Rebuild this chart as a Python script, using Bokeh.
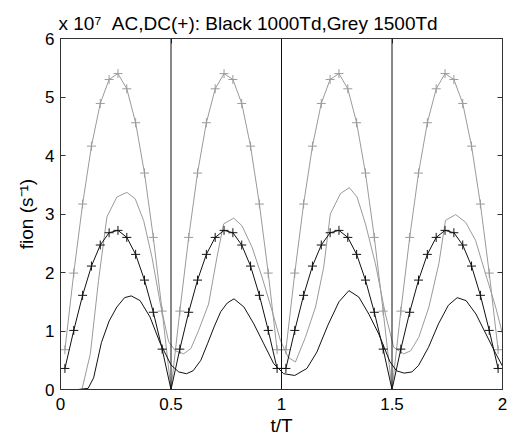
from bokeh.plotting import figure
from bokeh.models import FixedTicker, LinearAxis, Span, Range1d
from bokeh.embed import file_html
from bokeh.resources import INLINE

# ---- data ----
dc_t = [0.02, 0.06, 0.10, 0.14, 0.18, 0.22, 0.26, 0.30, 0.34, 0.38, 0.42, 0.46, 0.50,
        0.54, 0.58, 0.62, 0.66, 0.70, 0.74, 0.78, 0.82, 0.86, 0.90, 0.94, 0.98,
        1.02, 1.06, 1.10, 1.14, 1.18, 1.22, 1.26, 1.30, 1.34, 1.38, 1.42, 1.46, 1.50,
        1.54, 1.58, 1.62, 1.66, 1.70, 1.74, 1.78, 1.82, 1.86, 1.90, 1.94, 1.98]
dc_black = [0.36, 1.01, 1.61, 2.11, 2.47, 2.68, 2.72, 2.60, 2.31, 1.87, 1.32, 0.69, 0.00,
            0.69, 1.32, 1.87, 2.31, 2.60, 2.72, 2.68, 2.47, 2.11, 1.61, 1.01, 0.36,
            0.36, 1.01, 1.61, 2.11, 2.47, 2.68, 2.72, 2.60, 2.31, 1.87, 1.32, 0.69, 0.00,
            0.69, 1.32, 1.87, 2.31, 2.60, 2.72, 2.68, 2.47, 2.11, 1.61, 1.01, 0.36]
dc_grey = [0.68, 1.99, 3.17, 4.16, 4.89, 5.30, 5.40, 5.14, 4.56, 3.70, 2.60, 1.34, 0.00,
           1.34, 2.60, 3.70, 4.56, 5.14, 5.40, 5.30, 4.89, 4.16, 3.17, 1.99, 0.68,
           0.68, 1.99, 3.17, 4.16, 4.89, 5.30, 5.40, 5.14, 4.56, 3.70, 2.60, 1.34, 0.00,
           1.34, 2.60, 3.70, 4.56, 5.14, 5.40, 5.30, 4.89, 4.16, 3.17, 1.99, 0.68]

ac_black_t = [0.00, 0.08, 0.125, 0.15, 0.185, 0.22, 0.255, 0.29, 0.32, 0.36, 0.405, 0.45, 0.50,
              0.535, 0.57, 0.60, 0.635, 0.665, 0.695, 0.725, 0.755, 0.785, 0.83, 0.875, 0.92,
              0.965, 1.01, 1.06, 1.115, 1.16, 1.21, 1.26, 1.305, 1.35, 1.395, 1.44, 1.49,
              1.52, 1.555, 1.59, 1.62, 1.665, 1.71, 1.755, 1.795, 1.835, 1.88, 1.925, 1.97, 2.00]
ac_black = [0.00, 0.00, 0.02, 0.20, 0.80, 1.17, 1.41, 1.57, 1.60, 1.52, 1.24, 0.80, 0.42,
            0.30, 0.27, 0.32, 0.50, 0.78, 1.07, 1.33, 1.48, 1.55, 1.41, 1.12, 0.78,
            0.44, 0.27, 0.24, 0.36, 0.64, 1.10, 1.50, 1.69, 1.58, 1.29, 0.95, 0.48,
            0.32, 0.28, 0.30, 0.41, 0.72, 1.12, 1.44, 1.57, 1.52, 1.29, 0.95, 0.61, 0.40]

ac_grey_t = [0.00, 0.097, 0.135, 0.172, 0.21, 0.255, 0.30, 0.338, 0.376, 0.414, 0.452, 0.489,
             0.52, 0.557, 0.59, 0.625, 0.67, 0.708, 0.738, 0.784, 0.821, 0.867, 0.912, 0.957,
             0.995, 1.03, 1.063, 1.108, 1.154, 1.191, 1.221, 1.267, 1.307, 1.342, 1.38, 1.425,
             1.47, 1.508, 1.553, 1.584, 1.621, 1.667, 1.712, 1.742, 1.788, 1.833, 1.878, 1.923,
             1.969, 2.00]
ac_grey = [0.00, 0.00, 0.61, 1.86, 2.95, 3.29, 3.37, 3.26, 2.89, 2.26, 1.46, 0.82,
           0.66, 0.61, 0.70, 1.01, 1.46, 2.26, 2.83, 2.93, 2.80, 2.43, 1.92, 1.35,
           0.84, 0.55, 0.47, 0.89, 1.41, 2.09, 3.00, 3.35, 3.45, 3.29, 2.83, 2.15,
           1.29, 0.72, 0.61, 0.66, 0.89, 1.41, 2.15, 2.89, 2.99, 2.86, 2.55, 1.98,
           1.41, 0.95]

x_ticks = [0, 0.5, 1, 1.5, 2]
x_tick_labels = ["0", "0.5", "1", "1.5", "2"]
y_ticks = [0, 1, 2, 3, 4, 5, 6]
dividers = [0.5, 1.0, 1.5]
title_text = "x 10\u2077\u00a0\u00a0AC,DC(+): Black 1000Td,Grey 1500Td"

GREY = "#9a9a9a"
BLACK = "#111111"
FONT = "Liberation Sans"

p = figure(width=508, height=440, x_range=Range1d(0, 2), y_range=Range1d(0, 6),
           output_backend="svg", toolbar_location=None,
           min_border_left=60, min_border_right=6, min_border_top=38, min_border_bottom=51)
p.background_fill_color = "white"
p.border_fill_color = "white"
p.outline_line_color = "#333333"
p.grid.visible = False

p.title.text = title_text
p.title.text_font = FONT
p.title.text_font_size = "19px"
p.title.text_font_style = "normal"
p.title.text_color = "black"
p.title.align = "left"
p.title.offset = -2
p.title.standoff = 9

for loc in dividers:
    p.add_layout(Span(location=loc, dimension="height", line_color=BLACK, line_width=1))

p.line(ac_grey_t, ac_grey, line_color=GREY, line_width=1)
p.line(dc_t, dc_grey, line_color=GREY, line_width=1)
p.scatter(dc_t, dc_grey, marker="cross", size=9, line_color=GREY, line_width=1)
p.line(ac_black_t, ac_black, line_color=BLACK, line_width=1)
p.line(dc_t, dc_black, line_color=BLACK, line_width=1)
p.scatter(dc_t, dc_black, marker="cross", size=9, line_color=BLACK, line_width=1)

def style(ax, labels=True):
    ax.axis_line_color = "#333333"
    ax.major_tick_line_color = "#333333"
    ax.major_tick_in = 5
    ax.major_tick_out = 0
    ax.minor_tick_line_color = None
    ax.major_label_text_font = FONT
    if labels:
        ax.major_label_text_font_size = "17px"
        ax.major_label_text_color = "black"
    else:
        ax.major_label_text_font_size = "0px"
        ax.major_label_text_color = None
    ax.axis_label_text_font = FONT
    ax.axis_label_text_font_size = "19px"
    ax.axis_label_text_font_style = "normal"
    ax.axis_label_text_color = "black"

xa = p.xaxis[0]
xa.ticker = FixedTicker(ticks=x_ticks)
xa.major_label_overrides = {t: l for t, l in zip(x_ticks, x_tick_labels)}
xa.axis_label = "t/T"
xa.major_label_standoff = 8
xa.axis_label_standoff = 2
style(xa)

ya = p.yaxis[0]
ya.ticker = FixedTicker(ticks=y_ticks)
ya.axis_label = "fion (s\u207b\u00b9)"
ya.major_label_standoff = 6
ya.axis_label_standoff = 5
style(ya)

top = LinearAxis(ticker=FixedTicker(ticks=x_ticks), major_label_standoff=0)
style(top, labels=False)
p.add_layout(top, "above")
right = LinearAxis(ticker=FixedTicker(ticks=y_ticks), major_label_standoff=0)
style(right, labels=False)
p.add_layout(right, "right")

open("out.html", "w").write(file_html(p, INLINE))
